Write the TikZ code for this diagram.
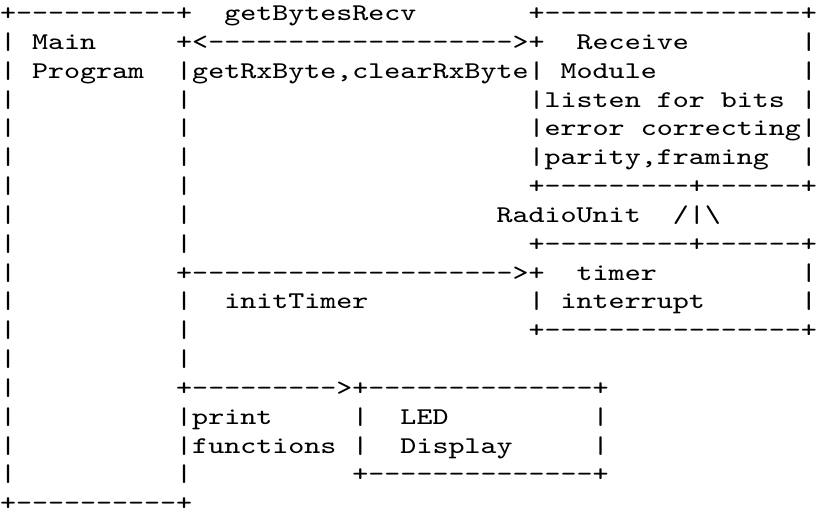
\documentclass[tikz,border=0pt]{standalone}
\usepackage{fontspec}
\setmonofont{Latin Modern Mono}
\usepackage{tikz}

\begin{document}
\begin{tikzpicture}[x=6pt,y=-10.8pt,
    tt/.style={font=\fontsize{9pt}{10pt}\ttfamily, anchor=base west,
      inner sep=0pt, outer sep=0pt, xscale=1.2698}]
      \useasboundingbox (0,0) rectangle (51,18);
      \begin{scope}[yshift=3.1pt]
        % main program box
        \node[tt] (maintop) at (0,1) {+----------+};
        \node[tt] (main) at (2,2) {Main};
        \node[tt] (program) at (2,3) {Program};
        \foreach \r in {2,...,17} \node[tt] (mainleft\r) at (0,\r) {|};
        \foreach \r in {4,...,9,11,12,13,17} \node[tt] (mainright\r) at (11,\r) {|};
        \node[tt] (mainbottom) at (0,18) {+----------+};
        % receive module
        \node[tt] (getbytes) at (14,1) {getBytesRecv};
        \node[tt] (rxtop) at (33,1) {+----------------+};
        \node[tt] (rxarrow) at (11,2) {+<------------------->+};
        \node[tt] (receive) at (36,2) {Receive};
        \node[tt] (rxcalls) at (11,3) {|getRxByte,clearRxByte|};
        \node[tt] (module) at (35,3) {Module};
        \node[tt] (listen) at (33,4) {|listen for bits};
        \node[tt] (errcorr) at (33,5) {|error correcting|};
        \node[tt] (parity) at (33,6) {|parity,framing};
        \foreach \r in {2,3,4,6,10,11} \node[tt] (rxright\r) at (50,\r) {|};
        \node[tt] (rxbottom) at (33,7) {+---------+------+};
        \node[tt] (radio) at (31,8) {RadioUnit};
        \node[tt] (irq) at (42,8) {/|\textbackslash};
        % timer
        \node[tt] (timertop) at (33,9) {+---------+------+};
        \node[tt] (timerarrow) at (11,10) {+-------------------->+};
        \node[tt] (timer) at (36,10) {timer};
        \node[tt] (inittimer) at (14,11) {initTimer};
        \node[tt] (timerleft) at (33,11) {|};
        \node[tt] (interrupt) at (35,11) {interrupt};
        \node[tt] (timerbottom) at (33,12) {+----------------+};
        % led display
        \node[tt] (ledarrow) at (11,14) {+--------->+--------------+};
        \node[tt] (print) at (11,15) {|print};
        \node[tt] (functions) at (11,16) {|functions};
        \node[tt] (led) at (25,15) {LED};
        \node[tt] (display) at (25,16) {Display};
        \foreach \r in {15,16} {
          \node[tt] (ledleft\r) at (22,\r) {|};
          \node[tt] (ledright\r) at (37,\r) {|};
        }
        \node[tt] (ledbottom) at (22,17) {+--------------+};
      \end{scope}
    \end{tikzpicture}
\end{document}
